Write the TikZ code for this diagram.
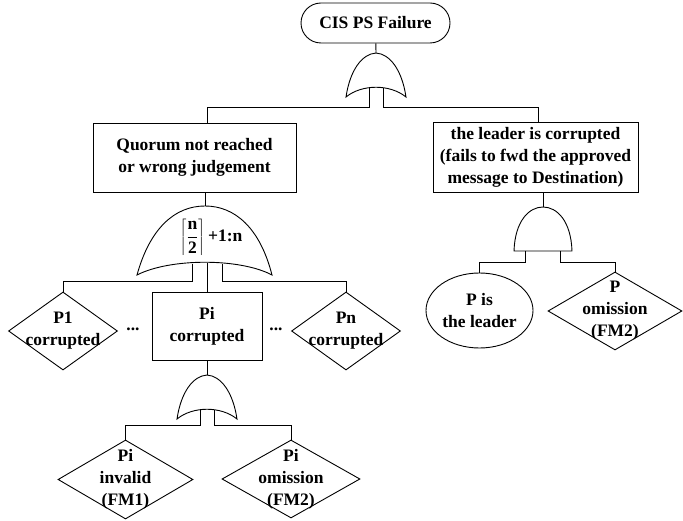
\documentclass[tikz,border=0pt]{standalone}
\usepackage{fontspec}
\setmainfont{Liberation Serif}
\usetikzlibrary{shapes.geometric}

\tikzset{
  orgate/.pic={
    \draw (-30,44) .. controls (-26,17) and (-14,1) .. (0,0)
      .. controls (14,1) and (26,17) .. (30,44)
      .. controls (14,31) and (-14,31) .. cycle;
    \coordinate (-top) at (0,0);
    \coordinate (-l) at (-7,35);
    \coordinate (-r) at (7,35);
  },
  andgate/.pic={
    \draw (-29,44) .. controls (-28,14) and (-14,0) .. (0,0)
      .. controls (14,0) and (28,14) .. (29,44) -- cycle;
    \coordinate (-top) at (0,0);
    \coordinate (-l) at (-18,44);
    \coordinate (-r) at (17,44);
  }
}

\begin{document}
\begin{tikzpicture}[
  x=1pt, y=-1pt, line width=0.9pt,
  every node/.style={font=\fontsize{17.5}{22}\selectfont\bfseries},
  topev/.style={draw, rounded corners=20pt, minimum width=149pt, minimum height=40pt},
  ev/.style={draw, align=center},
  basic/.style={draw, diamond, inner sep=0pt, minimum width=109pt, minimum height=78pt},
  cond/.style={draw, ellipse, align=center, inner sep=0pt, minimum width=107pt, minimum height=75pt}
]
\useasboundingbox (0,0) rectangle (683,521);

\node[topev] (top) at (375.5,23) {CIS PS Failure};
\pic (gtop) at (376,53) {orgate};

\node[ev, minimum width=203pt, minimum height=69pt] (quorum) at (194.5,157.5)
  {Quorum not reached\\or wrong judgement};
\node[ev, minimum width=205pt, minimum height=70pt] (leader) at (535.5,157)
  {the leader is corrupted\\(fails to fwd the approved\\message to Destination)};

\draw (137,275) .. controls (150,228) and (175,206) .. (205,206)
  .. controls (235,206) and (260,228) .. (272,275)
  .. controls (240,258) and (170,258) .. cycle;
\coordinate (vtop) at (205,206);
\coordinate (vl) at (192,264);
\coordinate (vr) at (222,264);
\coordinate (vmid) at (207,263);
\node[inner sep=0pt] (vote) at (211,237)
  {$\displaystyle\left\lceil\frac{\textbf{n}\rule[-3pt]{0pt}{15pt}}{\textbf{2}\rule[-3pt]{0pt}{15pt}}\right\rceil$\,+1:n};

\node[basic, label={[align=center]center:P1\\corrupted}] (p1) at (63,331) {};
\node (dots1) at (133,329) {...};
\node[ev, minimum width=110pt, minimum height=68pt] (pi) at (207,326) {Pi\\corrupted};
\node (dots2) at (276,329) {...};
\node[basic, label={[align=center]center:Pn\\corrupted}] (pn) at (346,331) {};

\pic (gpi) at (207,375) {orgate};
\node[basic, minimum width=135pt, minimum height=79pt,
  label={[align=center]center:Pi\\invalid\\(FM1)}] (pinv) at (125.5,479.5) {};
\node[basic, minimum width=138pt, minimum height=78pt,
  label={[align=center]center:Pi\\omission\\(FM2)}] (pom) at (291,479) {};

\pic (gand) at (543,207) {andgate};
\node[cond] (pl) at (479.5,310.5) {P is\\the leader};
\node[basic, minimum width=134pt, minimum height=78pt,
  label={[align=center]center:P\\omission\\(FM2)}] (pomm) at (615,311) {};

\draw (top) -- (gtop-top);
\draw (gtop-l) -- ++(0,19) -| ([xshift=12.5pt]quorum.north);
\draw (gtop-r) -- ++(0,19) -| ([xshift=2.5pt]leader.north);
\draw (quorum.south -| vtop) -- (vtop);
\draw (vl) -- ++(0,17) -| (p1.north);
\draw (vr) -- ++(0,17) -| (pn.north);
\draw (vmid) -- (pi.north);
\draw (pi.south) -- (gpi-top);
\draw (gpi-l) -- ++(0,15) -| (pinv.north);
\draw (gpi-r) -- ++(0,15) -| (pom.north);
\draw (leader.south -| gand-top) -- (gand-top);
\draw (gand-l) -- ++(0,11) -| (pl.north);
\draw (gand-r) -- ++(0,11) -| (pomm.north);
\end{tikzpicture}
\end{document}
